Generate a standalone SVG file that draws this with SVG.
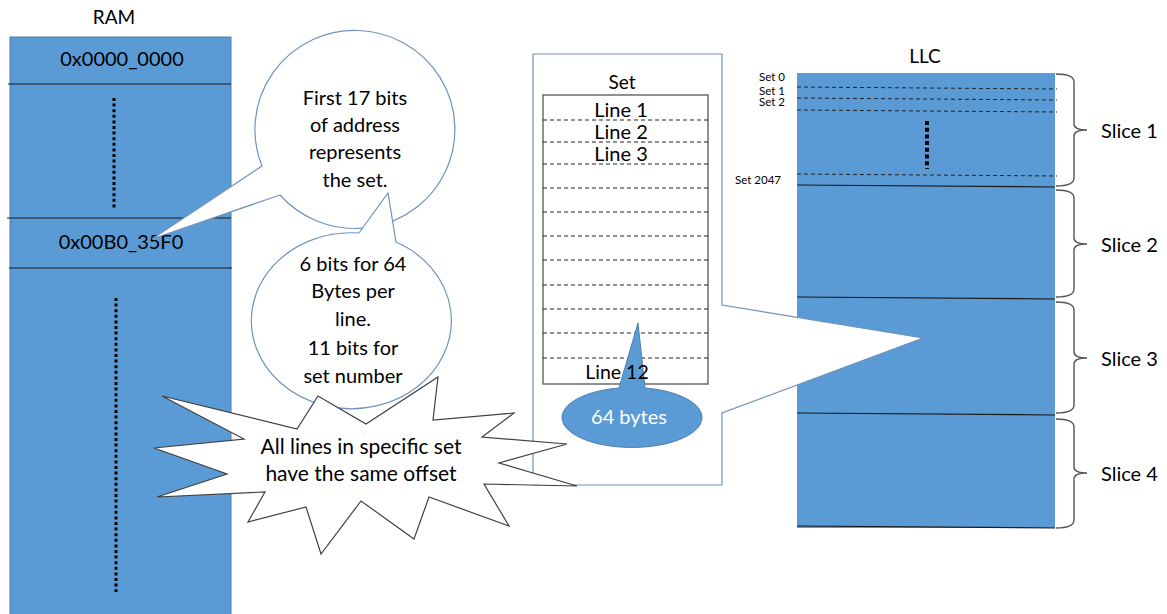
<svg xmlns="http://www.w3.org/2000/svg" width="1167" height="614" viewBox="0 0 1167 614">
<style>
text{font-family:Lato,"Liberation Sans",sans-serif;fill:#000}
.lbl{font-size:20px;text-anchor:middle}
.sm{font-size:11.5px;text-anchor:end}
.blue{fill:#5B9BD5;stroke:#4A7FB0;stroke-width:1}
.sep{stroke:#1a1a1a;stroke-width:1.2;fill:none}
.dash{stroke:#222;stroke-width:1;stroke-dasharray:4 3;fill:none}
.bub{fill:#fff;stroke:#6F93BC;stroke-width:1.2}
.brace{fill:none;stroke:#555;stroke-width:1.4}
</style>
<g id="ram">
<text class="lbl" x="114" y="24" style="font-size:19px">RAM</text>
<rect class="blue" x="10" y="37" width="221" height="580"/>
<line class="sep" x1="8" y1="84" x2="231" y2="84"/>
<line class="sep" x1="7" y1="218" x2="231" y2="218"/>
<line class="sep" x1="9" y1="268" x2="232" y2="268"/>
<text class="lbl" x="122" y="66">0x0000_0000</text>
<text class="lbl" x="121" y="249">0x00B0_35F0</text>
<line x1="114" y1="98" x2="114" y2="210" stroke="#000" stroke-width="3" stroke-dasharray="3 2.6"/>
<line x1="116" y1="298" x2="116" y2="592" stroke="#000" stroke-width="3" stroke-dasharray="3 2.6"/>
</g>
<g id="llc">
<text class="lbl" x="925" y="63" style="font-size:19px">LLC</text>
<rect x="797" y="73" width="258" height="455" fill="#5B9BD5"/>
<line class="sep" x1="797" y1="185" x2="1055" y2="187"/>
<line class="sep" x1="797" y1="297" x2="1055" y2="299"/>
<line class="sep" x1="797" y1="413" x2="1055" y2="415"/>
<line class="sep" x1="797" y1="526" x2="1055" y2="528"/>
<line class="dash" x1="797" y1="87" x2="1057" y2="89"/>
<line class="dash" x1="797" y1="98" x2="1057" y2="100"/>
<line class="dash" x1="797" y1="110" x2="1057" y2="112"/>
<line class="dash" x1="797" y1="174" x2="1057" y2="176"/>
<line x1="927" y1="121" x2="927" y2="169" stroke="#000" stroke-width="4" stroke-dasharray="4 2.7"/>
<text class="sm" x="785" y="81">Set 0</text>
<text class="sm" x="785" y="95">Set 1</text>
<text class="sm" x="785" y="106">Set 2</text>
<text class="sm" x="781" y="184">Set 2047</text>
</g>
<g id="slices">
<path class="brace" d="M1056,74 C1068,74 1074,76 1074,82 L1074,124 C1074,128 1078,130 1087,130 C1078,130 1074,132 1074,136 L1074,178 C1074,184 1068,186 1056,186"/>
<path class="brace" d="M1056,190 C1068,190 1074,192 1074,198 L1074,238 C1074,242 1078,244 1087,244 C1078,244 1074,246 1074,250 L1074,289 C1074,295 1068,297 1056,297"/>
<path class="brace" d="M1056,302 C1068,302 1074,304 1074,310 L1074,352 C1074,356 1078,358 1087,358 C1078,358 1074,360 1074,364 L1074,405 C1074,411 1068,413 1056,413"/>
<path class="brace" d="M1056,419 C1068,419 1074,421 1074,427 L1074,467 C1074,471 1078,473 1087,473 C1078,473 1074,475 1074,479 L1074,520 C1074,526 1068,528 1056,528"/>
<text x="1101" y="138" font-size="20">Slice 1</text>
<text x="1101" y="252" font-size="20">Slice 2</text>
<text x="1101" y="366" font-size="20">Slice 3</text>
<text x="1101" y="481" font-size="20">Slice 4</text>
</g>
<g id="set-panel">
<path d="M533,54 L722,54 L722,305 L923,338 L722,413 L722,485 L533,485 Z" fill="#fff" stroke="#6F93BC" stroke-width="1.2"/>
<text class="lbl" x="622" y="89" style="font-size:19px">Set</text>
<rect x="543" y="95" width="165" height="289" fill="#fff" stroke="#555" stroke-width="1.3"/>
<g class="dash">
<line x1="543" y1="120" x2="708" y2="120"/>
<line x1="543" y1="142" x2="708" y2="142"/>
<line x1="543" y1="164" x2="708" y2="164"/>
<line x1="543" y1="188" x2="708" y2="188"/>
<line x1="543" y1="212" x2="708" y2="212"/>
<line x1="543" y1="236" x2="708" y2="236"/>
<line x1="543" y1="260" x2="708" y2="260"/>
<line x1="543" y1="285" x2="708" y2="285"/>
<line x1="543" y1="309" x2="708" y2="309"/>
<line x1="543" y1="333" x2="708" y2="333"/>
<line x1="543" y1="358" x2="708" y2="358"/>
</g>
<text class="lbl" x="621" y="117">Line 1</text>
<text class="lbl" x="621" y="139">Line 2</text>
<text class="lbl" x="621" y="161">Line 3</text>
</g>
<g id="bytes">
<path d="M619,388 L638,323 L645,388 A70 30 0 1 1 619,388 Z" fill="#5B9BD5" stroke="#4A7FB0" stroke-width="1"/>
<text class="lbl" x="629" y="424" style="fill:#fff">64 bytes</text>
</g>
<g id="line12">
<text class="lbl" x="617" y="379" style="font-size:19.5px">Line 12</text>
</g>
<g id="bubble-set">
<path class="bub" d="M280,195 L152,239 L262,166 A100 99 0 1 1 280,195 Z"/>
<text class="lbl" x="355" y="105">First 17 bits</text>
<text class="lbl" x="355" y="132">of address</text>
<text class="lbl" x="355" y="159">represents</text>
<text class="lbl" x="355" y="187">the set.</text>
</g>
<g id="bubble-bits">
<path class="bub" d="M359,233 L388,193 L396,242 A100 88 0 1 1 359,233 Z"/>
<text class="lbl" x="353" y="271">6 bits for 64</text>
<text class="lbl" x="353" y="298">Bytes per</text>
<text class="lbl" x="353" y="326">line.</text>
<text class="lbl" x="353" y="355">11 bits for</text>
<text class="lbl" x="353" y="383">set number</text>
</g>
<g id="explosion">
<path d="M162,396 L297,429 L318,396 L366,424 L438,377 L433,420 L514,413 L482,437 L567,444 L499,463 L577,486 L484,484 L509,526 L429,497 L414,539 L361,501 L321,554 L306,507 L248,522 L265,492 L157,497 L227,474 L154,448 L244,439 Z" fill="#fff" stroke="#404040" stroke-width="1.2" stroke-linejoin="miter"/>
<text class="lbl" x="361" y="454" style="font-size:21px">All lines in specific set</text>
<text class="lbl" x="361" y="481" style="font-size:21px">have the same offset</text>
</g>
</svg>
